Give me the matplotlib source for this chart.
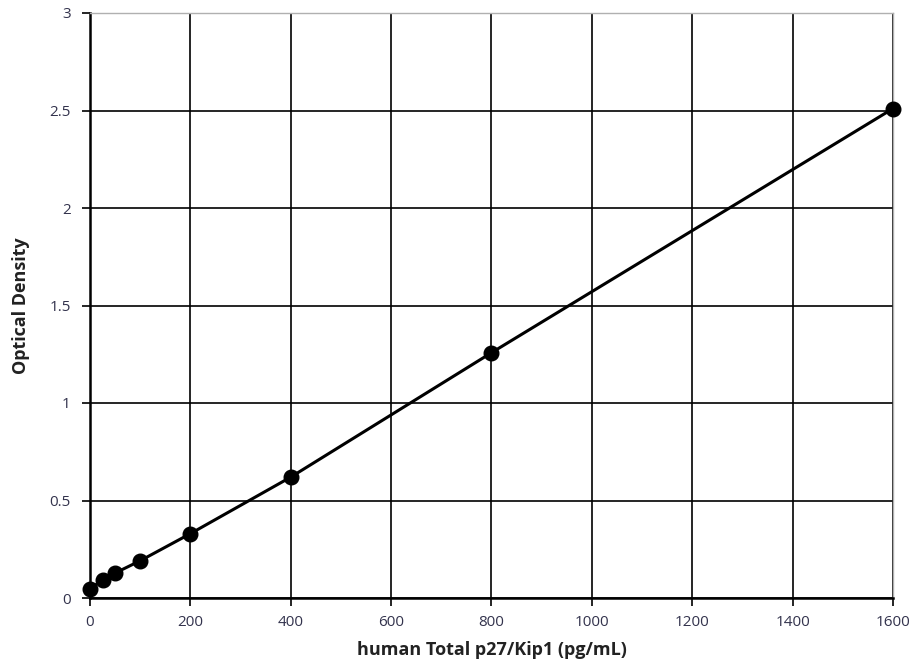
import matplotlib
matplotlib.use("Agg")
import matplotlib.pyplot as plt

concentration = [0, 25, 50, 100, 200, 400, 800, 1600]
optical_density = [0.045, 0.094, 0.128, 0.191, 0.33, 0.62, 1.258, 2.51]
x_ticks = [0, 200, 400, 600, 800, 1000, 1200, 1400, 1600]
y_ticks = [0, 0.5, 1, 1.5, 2, 2.5, 3]
y_tick_labels = ["0", "0.5", "1", "1.5", "2", "2.5", "3"]

plt.rcParams['font.family'] = ['Open Sans', 'DejaVu Sans']

fig = plt.figure(figsize=(9.15, 6.64), dpi=100)
ax = fig.add_axes([90/915, 66/664, 803/915, 585/664])

ax.plot(concentration, optical_density, color='black', lw=2.2, marker='o',
        markersize=10.5, zorder=3, clip_on=False)

ax.set_xlim(0, 1600)
ax.set_ylim(0, 3)
ax.set_xticks(x_ticks)
ax.set_yticks(y_ticks)
ax.set_yticklabels(y_tick_labels)
ax.grid(True, color='black', lw=1.2)
ax.set_axisbelow(True)

for s in ['top', 'right']:
    ax.spines[s].set_color('#b0b0b0')
    ax.spines[s].set_linewidth(1)
for s in ['left', 'bottom']:
    ax.spines[s].set_color('black')
    ax.spines[s].set_linewidth(1.8)

ax.tick_params(axis='both', direction='out', length=6, width=1.2,
               colors='black', labelcolor='#33334d', labelsize=11)
ax.tick_params(axis='x', pad=6)
ax.tick_params(axis='y', pad=8)

ax.set_xlabel('human Total p27/Kip1 (pg/mL)', fontsize=13, fontweight='bold',
              color='#222222', labelpad=8)
ax.set_ylabel('Optical Density', fontsize=13, fontweight='bold',
              color='#222222', labelpad=14)

fig.savefig('out.png', dpi=100)
